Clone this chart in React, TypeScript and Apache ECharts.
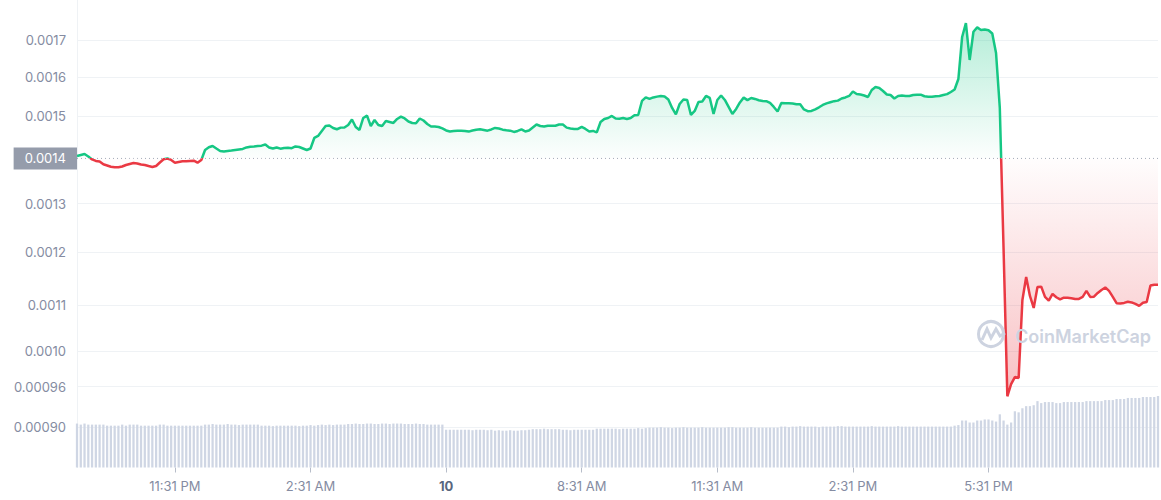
import React, { useEffect, useRef } from 'react';
import * as echarts from 'echarts';

// Price (USD), one point per 5-minute step
const price = [
  0.0014057, 0.0014080, 0.0014103, 0.0014045, 0.0013977, 0.0013942, 0.0013931, 0.0013866, 0.0013839, 0.0013811,
  0.0013798, 0.0013798, 0.0013816, 0.0013850, 0.0013873, 0.0013896, 0.0013884, 0.0013861, 0.0013850, 0.0013827,
  0.0013805, 0.0013827, 0.0013907, 0.0013981, 0.0013998, 0.0013965, 0.0013903, 0.0013919, 0.0013935, 0.0013935,
  0.0013942, 0.0013949, 0.0013903, 0.0013965, 0.0014196, 0.0014259, 0.0014290, 0.0014231, 0.0014173, 0.0014161,
  0.0014173, 0.0014184, 0.0014196, 0.0014208, 0.0014220, 0.0014255, 0.0014273, 0.0014278, 0.0014290, 0.0014297,
  0.0014325, 0.0014255, 0.0014231, 0.0014255, 0.0014226, 0.0014243, 0.0014248, 0.0014238, 0.0014278, 0.0014266,
  0.0014231, 0.0014196, 0.0014231, 0.0014479, 0.0014527, 0.0014647, 0.0014767, 0.0014779, 0.0014719, 0.0014688,
  0.0014727, 0.0014731, 0.0014791, 0.0014925, 0.0014743, 0.0014671, 0.0014962, 0.0015020, 0.0014767, 0.0014913,
  0.0014791, 0.0014767, 0.0014888, 0.0014864, 0.0014840, 0.0014938, 0.0014995, 0.0014950, 0.0014876, 0.0014840,
  0.0014832, 0.0014950, 0.0014901, 0.0014815, 0.0014755, 0.0014755, 0.0014743, 0.0014707, 0.0014659, 0.0014635,
  0.0014647, 0.0014654, 0.0014654, 0.0014647, 0.0014631, 0.0014659, 0.0014678, 0.0014688, 0.0014671, 0.0014654,
  0.0014683, 0.0014719, 0.0014707, 0.0014678, 0.0014664, 0.0014654, 0.0014623, 0.0014647, 0.0014683, 0.0014635,
  0.0014659, 0.0014731, 0.0014803, 0.0014767, 0.0014755, 0.0014774, 0.0014774, 0.0014774, 0.0014803, 0.0014803,
  0.0014727, 0.0014707, 0.0014695, 0.0014695, 0.0014743, 0.0014695, 0.0014635, 0.0014647, 0.0014611, 0.0014864,
  0.0014938, 0.0014962, 0.0015013, 0.0014950, 0.0014945, 0.0014962, 0.0014938, 0.0014962, 0.0015030, 0.0015037,
  0.0015387, 0.0015476, 0.0015438, 0.0015476, 0.0015497, 0.0015514, 0.0015501, 0.0015425, 0.0015211, 0.0015050,
  0.0015311, 0.0015425, 0.0015412, 0.0015037, 0.0015136, 0.0015362, 0.0015374, 0.0015514, 0.0015463, 0.0015062,
  0.0015412, 0.0015526, 0.0015412, 0.0015236, 0.0015062, 0.0015186, 0.0015349, 0.0015471, 0.0015407, 0.0015463,
  0.0015438, 0.0015404, 0.0015387, 0.0015382, 0.0015336, 0.0015236, 0.0015124, 0.0015336, 0.0015331, 0.0015329,
  0.0015324, 0.0015304, 0.0015304, 0.0015173, 0.0015129, 0.0015136, 0.0015178, 0.0015228, 0.0015286, 0.0015326,
  0.0015354, 0.0015382, 0.0015395, 0.0015450, 0.0015476, 0.0015514, 0.0015629, 0.0015565, 0.0015552, 0.0015526,
  0.0015488, 0.0015667, 0.0015744, 0.0015718, 0.0015641, 0.0015552, 0.0015539, 0.0015450, 0.0015514, 0.0015526,
  0.0015514, 0.0015514, 0.0015539, 0.0015547, 0.0015547, 0.0015506, 0.0015496, 0.0015496, 0.0015509, 0.0015514,
  0.0015539, 0.0015560, 0.0015616, 0.0015680, 0.0015952, 0.0017093, 0.0017487, 0.0016459, 0.0017240, 0.0017364,
  0.0017291, 0.0017305, 0.0017282, 0.0017191, 0.0016649, 0.0015211, 0.0012062, 0.0009470, 0.0009662, 0.0009774,
  0.0009758, 0.0011095, 0.0011521, 0.0011168, 0.0010950, 0.0011334, 0.0011340, 0.0011150, 0.0011082, 0.0011204,
  0.0011144, 0.0011104, 0.0011137, 0.0011135, 0.0011126, 0.0011113, 0.0011113, 0.0011150, 0.0011260, 0.0011150,
  0.0011154, 0.0011223, 0.0011278, 0.0011324, 0.0011260, 0.0011150, 0.0011035, 0.0011031, 0.0011041, 0.0011062,
  0.0011050, 0.0011022, 0.0010987, 0.0011045, 0.0011059, 0.0011362, 0.0011377, 0.0011377,
];

// Trading volume (thousand USD), same steps
const volume = [
  376, 367, 376, 367, 367, 367, 367, 367, 358, 358, 358, 358, 367, 358, 367, 367, 367, 358, 358, 358,
  358, 358, 367, 367, 358, 358, 358, 358, 358, 358, 358, 358, 358, 358,
  367, 367, 372, 367, 367, 367, 372, 367, 367, 363, 367, 367, 367, 367, 367,
  358, 358, 358, 354, 358, 358, 358, 358, 358, 358, 354, 358, 358,
  363, 358, 363, 367, 363, 367, 363, 367, 367, 367,
  372, 372, 376, 372, 372, 376, 376, 372, 372, 376, 376, 372, 376, 376, 376, 372, 372, 372, 376, 372, 372, 367,
  367, 367, 367, 367,
  323, 323, 323, 323, 323, 323, 323, 319, 323, 323, 323, 319, 323,
  315, 319, 315, 315, 319, 315, 315, 319, 319,
  323, 328, 328, 328, 332, 328, 328, 328, 328,
  323, 323, 319, 323, 323, 323, 323, 323, 323,
  332, 332, 332, 332, 332, 332, 328, 332, 332, 332, 332, 337, 332,
  337, 341, 341, 341, 345, 341, 341, 337, 341, 341, 345, 341, 341, 341, 341, 345, 341, 341, 341, 341,
  341, 341, 345, 345, 341, 341, 341, 341, 345, 341, 341, 341, 341, 341, 341, 341,
  350, 350, 345, 350, 350, 354, 350, 350, 350, 350, 345, 350, 350, 350, 350, 354, 354, 350, 350, 350,
  350, 350, 350, 350, 354, 350, 350, 350, 350, 350, 350, 354, 350, 350, 350, 350, 350, 350, 350, 350,
  350, 350, 350, 350, 350, 350,
  358, 363, 402, 402, 385, 385, 402, 402, 411, 411,
  402, 393, 455, 402, 367, 385, 481, 472, 507, 525, 525, 533, 568, 551,
  560, 560, 560, 551, 551, 560, 560, 560, 560, 560, 560, 568, 568, 568, 568, 568,
  577, 577, 577, 586, 586, 586, 595, 595, 595, 595, 603, 603, 603, 603, 612,
];

const openPrice = 0.0014;
const openLabel = '0.0014';

const yTickValues = [0.0009, 0.000962, 0.00102, 0.0011, 0.0012, 0.0013, 0.0015, 0.0016, 0.0017];
const yTickLabels = ['0.00090', '0.00096', '0.0010', '0.0011', '0.0012', '0.0013', '0.0015', '0.0016', '0.0017'];

const xTickIndex = [26, 62, 98, 134, 170, 206, 242];
const xTickLabels = ['11:31 PM', '2:31 AM', '10', '8:31 AM', '11:31 AM', '2:31 PM', '5:31 PM'];

const GREEN = '#16c784';
const RED = '#ea3943';
const GRID_LEFT = 77;

export default function App() {
  const ref = useRef<HTMLDivElement>(null);

  useEffect(() => {
    if (!ref.current) return;
    const chart = echarts.init(ref.current, null, { renderer: 'svg' });
    const cats = price.map((_, i) => String(i));

    const lmax = Math.log(Math.max(...price));
    const lmin = Math.log(Math.min(...price));
    const split = (lmax - Math.log(openPrice)) / (lmax - lmin);

    const fmtY = (v: number) => {
      for (let k = 0; k < yTickValues.length; k++) {
        if (Math.abs(v - yTickValues[k]) / yTickValues[k] < 1e-3) return yTickLabels[k];
      }
      return '';
    };

    const baseline = price.map(() => openPrice);

    chart.setOption({
      animation: false,
      textStyle: { fontFamily: 'Inter' },
      grid: { left: GRID_LEFT, right: 3, top: 0, bottom: 32.5 },
      xAxis: {
        type: 'category',
        data: cats,
        boundaryGap: false,
        axisLine: { show: false },
        axisTick: {
          show: true,
          interval: (i: number) => xTickIndex.includes(i),
          length: 5,
          lineStyle: { color: '#b7bdc9' },
        },
        axisLabel: {
          interval: (i: number) => xTickIndex.includes(i),
          formatter: (v: string) => {
            const k = xTickIndex.indexOf(Number(v));
            if (k < 0) return '';
            return xTickLabels[k] === '10' ? '{b|10}' : xTickLabels[k];
          },
          color: '#858ca2',
          fontSize: 13,
          fontFamily: 'Inter',
          margin: 12,
          rich: {
            b: { fontSize: 13, fontWeight: 700, color: '#58667e', fontFamily: 'Inter' },
          },
        },
        splitLine: { show: false },
      },
      yAxis: [
        {
          type: 'log',
          logBase: 10,
          min: 0.0008424,
          max: 0.0018164,
          axisLine: { show: true, lineStyle: { color: '#eff2f5' } },
          axisTick: { show: false, customValues: yTickValues },
          axisLabel: {
            customValues: yTickValues,
            formatter: fmtY,
            color: '#858ca2',
            fontSize: 13,
            fontFamily: 'Inter',
            margin: 11,
          },
          splitLine: { show: true, lineStyle: { color: '#eff2f5', width: 1 } },
        },
        {
          type: 'value',
          min: 0,
          max: 4000,
          show: false,
          splitLine: { show: false },
        },
      ],
      series: [
        {
          type: 'line',
          data: price,
          yAxisIndex: 0,
          showSymbol: false,
          symbol: 'none',
          z: 3,
          lineStyle: {
            width: 2.5,
            color: new echarts.graphic.LinearGradient(0, 0, 0, 1, [
              { offset: 0, color: GREEN },
              { offset: split, color: GREEN },
              { offset: split, color: RED },
              { offset: 1, color: RED },
            ]),
          },
          areaStyle: {
            origin: openPrice,
            opacity: 1,
            color: new echarts.graphic.LinearGradient(0, 0, 0, 1, [
              { offset: 0, color: 'rgba(22,199,132,0.32)' },
              { offset: split, color: 'rgba(22,199,132,0.01)' },
              { offset: split, color: 'rgba(234,57,67,0.01)' },
              { offset: 1, color: 'rgba(234,57,67,0.32)' },
            ]),
          },
        },
        {
          type: 'line',
          data: baseline,
          yAxisIndex: 0,
          showSymbol: false,
          symbol: 'none',
          silent: true,
          z: 4,
          lineStyle: { color: '#a3aab7', type: [1, 3], width: 1 },
        },
        {
          type: 'bar',
          data: volume,
          yAxisIndex: 1,
          barWidth: '60%',
          silent: true,
          z: 1,
          itemStyle: { color: '#cfd6e4' },
        },
      ],
    });

    // Position the open-price tag through the axis scale
    const yOpen = chart.convertToPixel({ yAxisIndex: 0 }, openPrice) as number;

    chart.setOption({
      graphic: [
        {
          id: 'openTag',
          type: 'text',
          z: 100,
          x: GRID_LEFT,
          y: yOpen,
          style: {
            text: openLabel,
            align: 'right',
            verticalAlign: 'middle',
            fill: '#ffffff',
            backgroundColor: '#959cab',
            padding: [5, 11, 4, 11],
            font: '13px Inter',
            lineHeight: 13,
          },
        },
        {
          id: 'wmCircle',
          type: 'circle',
          z: 100,
          shape: { cx: 991, cy: 334, r: 12.5 },
          style: { fill: 'none', stroke: '#cdd3e0', lineWidth: 3 },
        },
        {
          id: 'wmWave',
          type: 'polyline',
          z: 100,
          shape: { points: [[982, 340], [987, 329], [991, 338], [996, 329], [1000, 336], [1005, 333]] },
          style: { fill: 'none', stroke: '#cdd3e0', lineWidth: 3 },
        },
        {
          id: 'wmText',
          type: 'text',
          z: 100,
          x: 1015,
          y: 336,
          style: {
            text: 'CoinMarketCap',
            font: '600 18px Inter',
            fill: '#cdd3e0',
            verticalAlign: 'middle',
          },
        },
      ],
    });

    return () => chart.dispose();
  }, []);

  return (
    <div
      ref={ref}
      style={{ position: 'fixed', left: 0, top: 0, width: 1161, height: 500, background: '#ffffff' }}
    />
  );
}
